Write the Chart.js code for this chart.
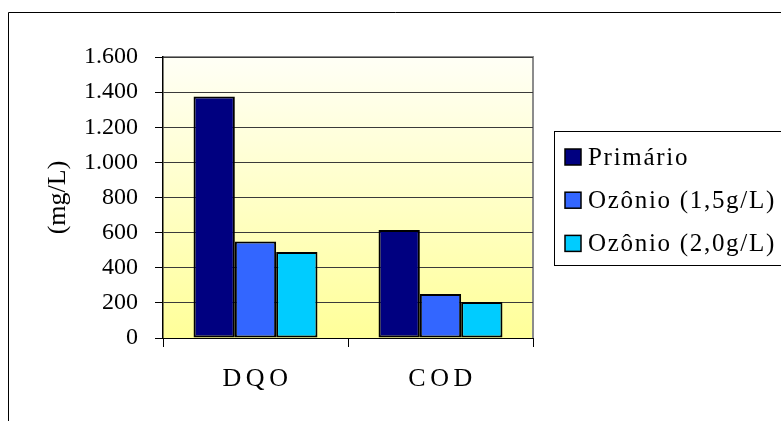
<!DOCTYPE html>
<html lang="pt-BR">
<head>
<meta charset="utf-8">
<title>DQO e COD</title>
<script src="https://cdn.jsdelivr.net/npm/chart.js@4.4.1/dist/chart.umd.min.js"></script>
<style>
  html, body { margin: 0; padding: 0; background: #ffffff; overflow: hidden; }
  #wrap { width: 781px; height: 421px; }
</style>
</head>
<body>
<div id="wrap"><canvas id="chart" width="781" height="421"></canvas></div>
<script>
// Parâmetros analisados
const categories = ['DQO', 'COD'];

// Concentrações (mg/L) por tratamento
const primario  = [1375, 615];
const ozonio15  = [550, 250];
const ozonio20  = [490, 205];

const seriesNames = ['Primário', 'Ozônio (1,5g/L)', 'Ozônio (2,0g/L)'];

// Eixo vertical
const yMin = 0;
const yMax = 1600;
const yStep = 200;

const SERIF = "'Liberation Serif', 'Times New Roman', serif";
Chart.defaults.font.family = SERIF;
Chart.defaults.font.size = 24;
Chart.defaults.color = '#000';

// Formata milhares com ponto (1.600)
function fmtThousands(v) {
  return String(v).replace(/\B(?=(\d{3})+(?!\d))/g, '.');
}

// Moldura externa, fundo em degradê da área de plotagem e bordas cinzas
const plotDecor = {
  id: 'plotDecor',
  beforeDraw(chart) {
    const { ctx, chartArea: a } = chart;
    ctx.save();
    ctx.strokeStyle = '#000';
    ctx.lineWidth = 1;
    ctx.beginPath();
    ctx.moveTo(8.5, chart.height + 5);
    ctx.lineTo(8.5, 12.5);
    ctx.lineTo(chart.width + 5, 12.5);
    ctx.stroke();

    const g = ctx.createLinearGradient(0, a.top, 0, a.bottom);
    g.addColorStop(0, '#fffff6');
    g.addColorStop(1, '#ffff99');
    ctx.fillStyle = g;
    ctx.fillRect(a.left, a.top, a.right - a.left, a.bottom - a.top);

    ctx.strokeStyle = '#8c8c8c';
    ctx.lineWidth = 2;
    ctx.beginPath();
    ctx.moveTo(a.left, a.top);
    ctx.lineTo(a.right, a.top);
    ctx.lineTo(a.right, a.bottom);
    ctx.stroke();
    ctx.restore();
  }
};

// Rótulos das categorias com espaçamento entre letras
const spacedCategoryLabels = {
  id: 'spacedCategoryLabels',
  afterLayout(chart) {
    const sc = chart.scales.x;
    if (!sc || sc._spaced) return;
    const orig = sc.drawLabels.bind(sc);
    sc.drawLabels = (area) => {
      const ctx = chart.ctx;
      ctx.save();
      ctx.letterSpacing = '4.5px';
      ctx.translate(2, 0);
      orig(area);
      ctx.restore();
      ctx.letterSpacing = '0px';
    };
    sc._spaced = true;
  }
};

// Legenda em caixa à direita da área de plotagem
const boxedLegend = {
  id: 'boxedLegend',
  afterDraw(chart) {
    const { ctx, chartArea: a } = chart;
    const left = a.right + 21;
    const top = 131;
    const bottom = 265;
    const rowGap = 43.2;
    const firstRow = top + 26;
    ctx.save();
    ctx.strokeStyle = '#000';
    ctx.lineWidth = 1;
    ctx.strokeRect(left + 0.5, top + 0.5, chart.width, bottom - top);

    ctx.font = '25px ' + SERIF;
    ctx.letterSpacing = '1.7px';
    ctx.textAlign = 'left';
    ctx.textBaseline = 'alphabetic';
    chart.data.datasets.forEach((ds, i) => {
      const yc = firstRow + i * rowGap;
      ctx.fillStyle = ds.backgroundColor;
      ctx.fillRect(left + 11, yc - 8, 16, 16);
      ctx.lineWidth = 1.5;
      ctx.strokeStyle = '#000';
      ctx.strokeRect(left + 11, yc - 8, 16, 16);
      ctx.fillStyle = '#000';
      ctx.fillText(ds.label, left + 34, yc + 7.5);
    });
    ctx.restore();
    ctx.letterSpacing = '0px';
  }
};

const barStyle = { borderColor: '#000000', borderWidth: 2, borderSkipped: false };

new Chart(document.getElementById('chart'), {
  type: 'bar',
  data: {
    labels: categories,
    datasets: [
      Object.assign({ label: seriesNames[0], data: primario, backgroundColor: '#000080' }, barStyle),
      Object.assign({ label: seriesNames[1], data: ozonio15, backgroundColor: '#3366ff' }, barStyle),
      Object.assign({ label: seriesNames[2], data: ozonio20, backgroundColor: '#00ccff' }, barStyle)
    ]
  },
  options: {
    responsive: false,
    animation: false,
    devicePixelRatio: 1,
    datasets: { bar: { categoryPercentage: 0.67, barPercentage: 1.0 } },
    layout: { padding: { top: 57, left: 0, right: 248, bottom: 0 } },
    plugins: {
      legend: { display: false },
      tooltip: { enabled: false },
      title: { display: false }
    },
    scales: {
      x: {
        grid: { drawOnChartArea: false, offset: true, tickLength: 9, color: '#000', tickColor: '#000' },
        border: { color: '#000', width: 1 },
        ticks: { font: { family: SERIF, size: 26 }, color: '#000', padding: 17 },
        afterFit(s) { s.height = 83; }
      },
      y: {
        min: yMin,
        max: yMax,
        grid: { color: '#3a3a3a', lineWidth: 1, tickLength: 8, tickColor: '#000' },
        border: { color: '#000', width: 1.5 },
        ticks: {
          stepSize: yStep,
          font: { family: SERIF, size: 24 },
          color: '#000',
          padding: 17,
          callback: (v) => fmtThousands(v)
        },
        title: {
          display: true,
          text: '(mg/L)',
          font: { family: SERIF, size: 26 },
          color: '#000',
          padding: { top: 43, bottom: 0 }
        },
        afterFit(s) { s.width = 163; }
      }
    }
  },
  plugins: [plotDecor, spacedCategoryLabels, boxedLegend]
});
</script>
</body>
</html>
